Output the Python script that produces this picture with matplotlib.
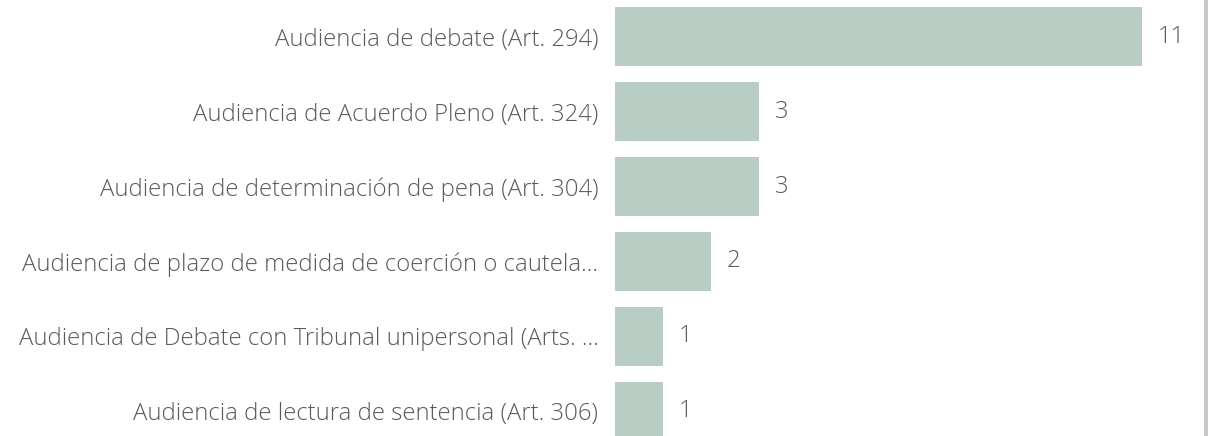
import matplotlib.pyplot as plt

# Hearing types and counts
categories = [
    "Audiencia de debate (Art. 294)",
    "Audiencia de Acuerdo Pleno (Art. 324)",
    "Audiencia de determinación de pena (Art. 304)",
    "Audiencia de plazo de medida de coerción o cautela...",
    "Audiencia de Debate con Tribunal unipersonal (Arts. ...",
    "Audiencia de lectura de sentencia (Art. 306)",
]
counts = [11, 3, 3, 2, 1, 1]

BAR_COLOR = "#b8cdc4"
TEXT_COLOR = "#5c5a58"
FS = 17.2

plt.rcParams['font.family'] = ['Open Sans', 'DejaVu Sans']
plt.rcParams['font.weight'] = 'light'

fig = plt.figure(figsize=(12.08, 4.36), dpi=100)
ax = fig.add_axes([615 / 1208, 0, (1203 - 615) / 1208, 1])

ypos = list(range(len(categories)))
ax.barh(ypos, counts, height=0.787, color=BAR_COLOR)

for y, v in zip(ypos, counts):
    ax.annotate(str(v), (v, y), xytext=(11.5, 0), textcoords="offset points",
                ha="left", va="center", fontsize=FS, color=TEXT_COLOR)

ax.set_yticks(ypos)
ax.set_yticklabels(categories, fontsize=FS, color=TEXT_COLOR)
ax.tick_params(axis="y", length=0, pad=12)
ax.set_xticks([])
ax.set_xlim(0, 12.27)
ax.set_ylim(5.327, -0.487)
for s in ax.spines.values():
    s.set_visible(False)

# thin grey divider on the right edge
fig.add_artist(plt.Line2D([1205.5 / 1208] * 2, [0, 1], transform=fig.transFigure,
                          color="#c8c8c8", linewidth=3.6))

fig.savefig("out.png", dpi=100)
